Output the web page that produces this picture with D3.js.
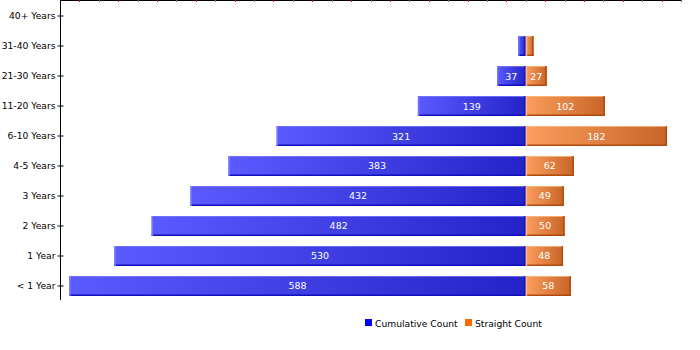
<!DOCTYPE html>
<html><head><meta charset="utf-8">
<script src="https://cdn.jsdelivr.net/npm/d3@7"></script>
<style>body{margin:0;background:#fff}svg{display:block}</style>
</head><body><svg id="c" width="700" height="350"></svg>
<script>
const categories = ["40+ Years","31-40 Years","21-30 Years","11-20 Years","6-10 Years","4-5 Years","3 Years","2 Years","1 Year","< 1 Year"];
const cumulative = [0,10,37,139,321,383,432,482,530,588];
const straight   = [0,10,27,102,182,62,49,50,48,58];
const seriesNames = ["Cumulative Count","Straight Count"];
const axisTicks = d3.range(-600, 201, 25);

const svg = d3.select("#c");
const font = "DejaVu Sans, Verdana, sans-serif";
const x = d3.scaleLinear().domain([-600, 200]).range([60, 681]);
const y = d3.scaleBand().domain(categories).range([1, 301]).paddingInner(0.3333).paddingOuter(0.1667);

const defs = svg.append("defs");
const gb = defs.append("linearGradient").attr("id","gb");
gb.append("stop").attr("offset","0%").attr("stop-color","#5a5aff");
gb.append("stop").attr("offset","100%").attr("stop-color","#2323c8");
const go = defs.append("linearGradient").attr("id","go");
go.append("stop").attr("offset","0%").attr("stop-color","#fb9e5e");
go.append("stop").attr("offset","100%").attr("stop-color","#c86528");

// top axis line with ticks
svg.append("line").attr("x1",60).attr("x2",681).attr("y1",0.5).attr("y2",0.5).attr("stroke","#000");
svg.selectAll(".tk").data(axisTicks).join("line")
  .attr("x1",d=>Math.round(x(d))+0.5).attr("x2",d=>Math.round(x(d))+0.5)
  .attr("y1",0).attr("y2",2)
  .attr("stroke",d=>d%50===0?"#777":"#e00");

// y axis
const yAxis = d3.axisLeft(y).tickSize(3).tickPadding(2);
const gy = svg.append("g").attr("transform","translate(60.5,0)").call(yAxis);
gy.select(".domain").attr("d","M0,0V300");
gy.selectAll(".tick line").attr("x1",-3).attr("x2",3).attr("stroke","#000");
gy.selectAll("text").attr("font-family",font).attr("font-size",9.2).attr("fill","#000");

const bh = y.bandwidth();
function bars(vals, sign, grad, edgeDark, edgeLight, cls){
  const g = svg.selectAll("."+cls).data(vals.map((v,i)=>({v,c:categories[i]})).filter(d=>d.v>0)).join("g").attr("class",cls);
  g.append("rect")
    .attr("x",d=>sign<0?x(-d.v):x(0)).attr("y",d=>y(d.c))
    .attr("width",d=>Math.abs(x(d.v)-x(0))).attr("height",bh)
    .attr("fill","url(#"+grad+")");
  g.append("rect").attr("x",d=>(sign<0?x(-d.v):x(0))).attr("y",d=>y(d.c))
    .attr("width",d=>Math.abs(x(d.v)-x(0))).attr("height",1).attr("fill",edgeLight).attr("opacity",0.8);
  g.append("rect").attr("x",d=>(sign<0?x(-d.v):x(0))).attr("y",d=>y(d.c)+bh-1.5)
    .attr("width",d=>Math.abs(x(d.v)-x(0))).attr("height",1.5).attr("fill",edgeDark);
  g.append("rect").attr("x",d=>(sign<0?x(-d.v):x(0))).attr("y",d=>y(d.c))
    .attr("width",1.5).attr("height",bh).attr("fill",edgeLight).attr("opacity",0.9);
  g.append("rect").attr("x",d=>(sign<0?x(0):x(d.v))-1.5).attr("y",d=>y(d.c))
    .attr("width",1.5).attr("height",bh).attr("fill",edgeDark);
  g.filter(d=>d.v>=20).append("text")
    .attr("x",d=>(x(0)+(sign<0?x(-d.v):x(d.v)))/2).attr("y",d=>y(d.c)+bh/2+3.5)
    .attr("text-anchor","middle").attr("font-family",font).attr("font-size",9.5).attr("fill","#fff")
    .text(d=>d.v);
}
bars(cumulative,-1,"gb","#1010c0","#7878ff","cb");
bars(straight,1,"go","#b04a0c","#ffb880","sb");

// legend
const lg = svg.append("g");
const lx = [365, 465];
const lc = ["#0000ff","#ff6a00"];
seriesNames.forEach((n,i)=>{
  lg.append("rect").attr("x",lx[i]).attr("y",319).attr("width",7).attr("height",7).attr("fill",lc[i]);
  lg.append("text").attr("x",lx[i]+10).attr("y",326.5).attr("font-family",font).attr("font-size",9.2).attr("fill","#000").text(n);
});
</script></body></html>
